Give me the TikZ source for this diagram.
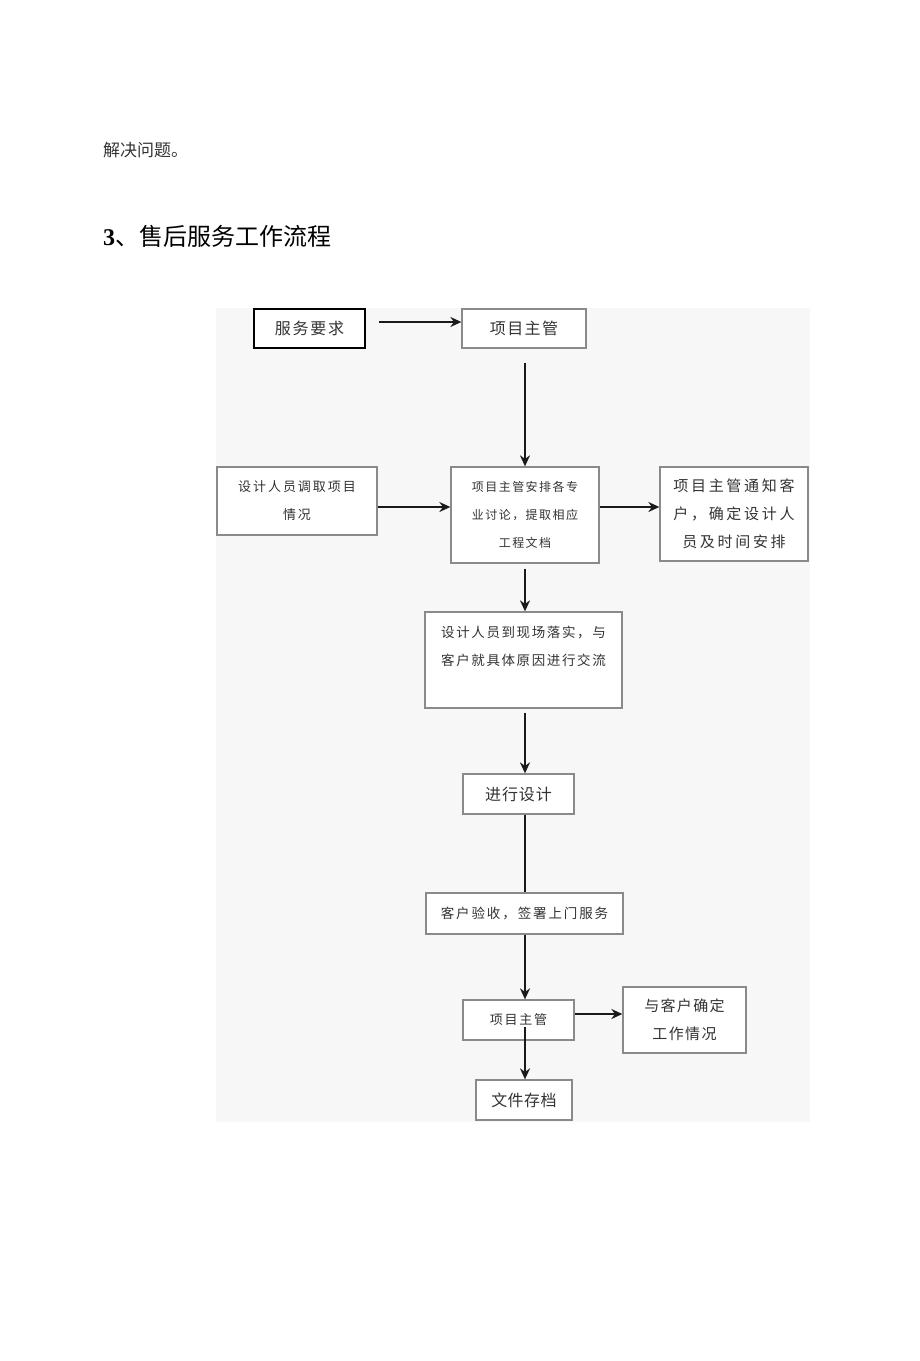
\documentclass[tikz,border=0pt]{standalone}
\usepackage{fontspec}
\setmainfont{Noto Sans CJK SC}
\newfontfamily\serifnum{Liberation Serif}
\usetikzlibrary{arrows.meta}
\definecolor{panel}{HTML}{F7F7F7}
\definecolor{edge}{HTML}{8A8A8A}
\definecolor{ink}{HTML}{333333}
\definecolor{arr}{HTML}{1A1A1A}
\newcommand{\fs}[2]{\fontsize{#1}{28}\selectfont\addfontfeature{LetterSpace=#2}}
\tikzset{
  box/.style={draw=edge, line width=1.3pt, fill=white, inner sep=0pt, align=center, text=ink},
  strongbox/.style={box, draw=black, line width=2pt},
  flow/.style={draw=arr, line width=2.2pt, -{Stealth[length=11pt,width=10pt]}},
  plain/.style={draw=arr, line width=2.2pt}
}
\begin{document}
\begin{tikzpicture}[x=1pt,y=-1pt]
\useasboundingbox (0,0) rectangle (920,1361);
\fill[white] (0,0) rectangle (920,1361);
% heading texts
\node[anchor=west, inner sep=0pt, text=ink] (t1) at (103,150) {\fontsize{17}{20}\selectfont 解决问题。};
\node[anchor=west, inner sep=0pt, text=black] (t2) at (103,236) {\fontsize{24}{28}\selectfont{\serifnum\bfseries 3}、售后服务工作流程};
% panel
\fill[panel] (216,308) rectangle (810,1122);
% nodes
\node[strongbox, minimum width=111pt, minimum height=39pt, font={\fs{16}{11}}] (req) at (309.5,328.5) {服务要求};
\node[box, minimum width=124pt, minimum height=39pt, font={\fs{16}{9}}] (pm1) at (524,328.5) {项目主管};
\node[box, minimum width=160pt, minimum height=68pt, font={\fs{13}{15}}] (des) at (297,501) {设计人员调取项目\\情况};
\node[box, minimum width=148pt, minimum height=96pt, font={\fs{12}{12}}] (arr4) at (525,515) {项目主管安排各专\\业讨论，提取相应\\工程文档};
\node[box, minimum width=148pt, minimum height=94pt, font={\fs{15}{18}}] (notify) at (734,514) {项目主管通知客\\户，确定设计人\\员及时间安排};
\node[box, minimum width=197pt, minimum height=96pt, font={\fs{13.5}{12}}] (site) at (523.5,660) {设计人员到现场落实，与\\客户就具体原因进行交流\\\mbox{}};
\node[box, minimum width=111pt, minimum height=40pt, font={\fs{16}{6}}] (design) at (518.5,794) {进行设计};
\node[box, minimum width=197pt, minimum height=41pt, font={\fs{13.5}{14}}] (accept) at (524.5,913.5) {客户验收，签署上门服务};
\node[box, minimum width=111pt, minimum height=40pt, font={\fs{13}{14}}] (pm2) at (518.5,1020) {项目主管};
\node[box, minimum width=123pt, minimum height=66pt, font={\fs{15}{9}}] (confirm) at (684.5,1020) {与客户确定\\工作情况};
\node[box, minimum width=96pt, minimum height=40pt, font={\fs{16}{3}}] (archive) at (524,1100) {文件存档};
% guide coordinates
\coordinate (vx) at (525,0);
\coordinate (h1) at (0,322);
\coordinate (h2) at (0,507);
\coordinate (h3) at (0,1014);
\coordinate (s2) at (525,1027);
% connectors
\draw[flow, shorten <=13pt] (req.east |- h1) -- (pm1.west |- h1);
\draw[flow, shorten <=14pt] (pm1.south -| vx) -- (arr4.north -| vx);
\draw[flow] (des.east |- h2) -- (arr4.west |- h2);
\draw[flow] (arr4.east |- h2) -- (notify.west |- h2);
\draw[flow, shorten <=5pt] (arr4.south -| vx) -- (site.north -| vx);
\draw[flow, shorten <=4pt] (site.south -| vx) -- (design.north -| vx);
\draw[plain] (design.south -| vx) -- (accept.north -| vx);
\draw[flow] (accept.south -| vx) -- (pm2.north -| vx);
\draw[flow] (pm2.east |- h3) -- (confirm.west |- h3);
\draw[flow] (s2) -- (archive.north -| vx);
\end{tikzpicture}
\end{document}
